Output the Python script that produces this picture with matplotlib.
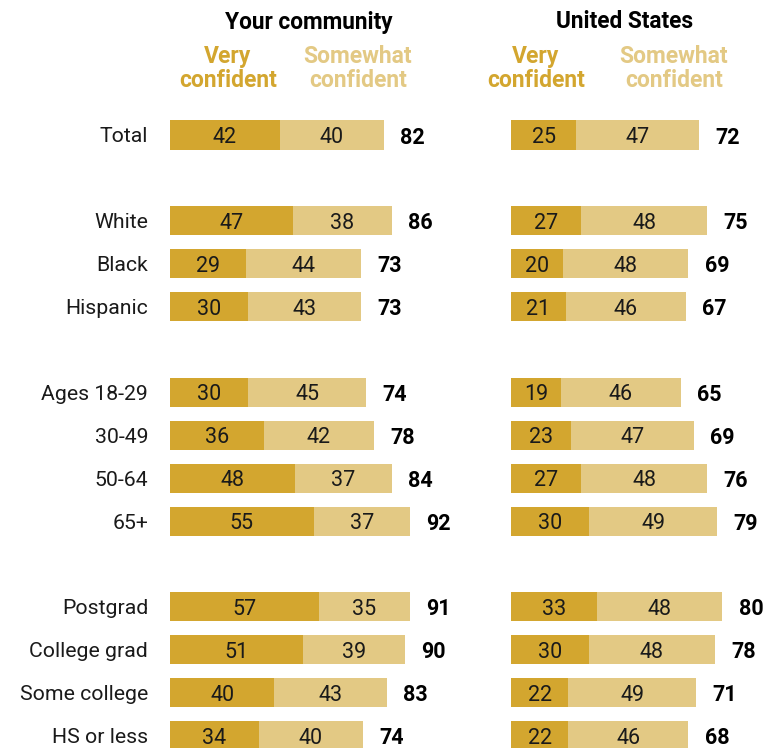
import numpy as np
import matplotlib.pyplot as plt

plt.rcParams['font.family'] = ['Roboto', 'DejaVu Sans']

groups = ['Total', 'White', 'Black', 'Hispanic', 'Ages 18-29', '30-49', '50-64', '65+',
          'Postgrad', 'College grad', 'Some college', 'HS or less']
rows = [0, 2, 3, 4, 6, 7, 8, 9, 11, 12, 13, 14]

comm_very = [42, 47, 29, 30, 30, 36, 48, 55, 57, 51, 40, 34]
comm_some = [40, 38, 44, 43, 45, 42, 37, 37, 35, 39, 43, 40]
comm_total = [82, 86, 73, 73, 74, 78, 84, 92, 91, 90, 83, 74]

us_very = [25, 27, 20, 21, 19, 23, 27, 30, 33, 30, 22, 22]
us_some = [47, 48, 48, 46, 46, 47, 48, 49, 48, 48, 49, 46]
us_total = [72, 75, 69, 67, 65, 69, 76, 79, 80, 78, 71, 68]

DARK = '#D3A62F'
LIGHT = '#E3C984'

W, H = 774, 748
fig = plt.figure(figsize=(W / 100, H / 100), dpi=100)

def fx(px):
    return px / W

def fy(py):
    return 1 - py / H

# each axis: x=0 at bar start, 2.61 px per point; rows 42.9 px apart
px_unit = 2.61
row_px = 42.9
top_px = 135 - 0.5 * row_px
ylim_bottom = (H - 135) / row_px

def panel(x0, very, some, total):
    ax = fig.add_axes([fx(x0), 0, 100 * px_unit / W, fy(top_px)])
    ax.set_xlim(0, 100)
    ax.set_ylim(ylim_bottom, -0.5)
    ax.axis('off')
    y = np.array(rows)
    ax.barh(y, very, height=0.68, color=DARK, linewidth=0)
    ax.barh(y, some, left=very, height=0.68, color=LIGHT, linewidth=0)
    for yi, v, s, t in zip(y, very, some, total):
        ax.text(v / 2, yi, str(v), ha='center', va='center_baseline', fontsize=15.5, color='#1a1a1a')
        ax.text(v + s / 2, yi, str(s), ha='center', va='center_baseline', fontsize=15.5, color='#1a1a1a')
        ax.text(v + s + 6.3, yi, str(t), ha='left', va='center_baseline', fontsize=15.5,
                fontweight='bold', color='black', clip_on=False)
    return ax

ax1 = panel(170, comm_very, comm_some, comm_total)
ax2 = panel(511, us_very, us_some, us_total)

for g, r in zip(groups, rows):
    ax1.text(-8.4, r, g, ha='right', va='center_baseline', fontsize=15.3, color='#1a1a1a',
             clip_on=False)

# column headers
for cx, title in [(309, 'Your community'), (625, 'United States')]:
    fig.text(fx(cx), fy(22), title, ha='center', va='center', fontsize=16.3,
             fontweight='bold', color='black')
for cx, lab, col in [(228, 'Very\nconfident', DARK), (358, 'Somewhat\nconfident', LIGHT),
                     (536, 'Very\nconfident', DARK), (674, 'Somewhat\nconfident', LIGHT)]:
    fig.text(fx(cx), fy(68.5), lab, ha='center', va='center', fontsize=16.5,
             fontweight='bold', color=col, linespacing=1.1)

fig.savefig('out.png', dpi=100)
